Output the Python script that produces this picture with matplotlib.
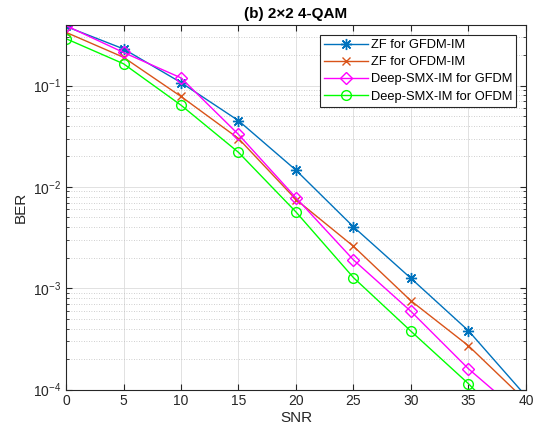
import numpy as np
import matplotlib
matplotlib.use("Agg")
from matplotlib import pyplot as plt
from matplotlib.ticker import LogLocator, NullFormatter, MultipleLocator

plt.rcParams['font.family'] = ['Liberation Sans', 'DejaVu Sans']
plt.rcParams['mathtext.fontset'] = 'custom'
plt.rcParams['mathtext.rm'] = 'Liberation Sans'

snr = [0, 5, 10, 15, 20, 25, 30, 35, 40]
zf_gfdm = [0.383, 0.23, 0.107, 0.045, 0.0146, 0.00403, 0.00125, 0.00038, 0.000086]
zf_ofdm = [0.335, 0.19, 0.078, 0.030, 0.0075, 0.00259, 0.00075, 0.00027, 0.000077]
deep_gfdm = [0.39, 0.212, 0.119, 0.0329, 0.0078, 0.0019, 0.00059, 0.00016, 0.000052]
deep_ofdm = [0.29, 0.164, 0.064, 0.0219, 0.00565, 0.00127, 0.000376, 0.000114, 0.00003]
labels = ['ZF for GFDM-IM', 'ZF for OFDM-IM', 'Deep-SMX-IM for GFDM', 'Deep-SMX-IM for OFDM']

fig = plt.figure(figsize=(5.34, 4.38), dpi=100)
ax = fig.add_axes([0.1236, 0.1107, 0.8614, 0.8333])

# matlab-like markers: asterisk, x, diamond, circle
ax.semilogy(snr, zf_gfdm, '-', marker=(8, 2, 0), color='#0072BD', lw=1, ms=8, label=labels[0])
ax.semilogy(snr, zf_ofdm, '-x', color='#D95319', lw=1, ms=6, label=labels[1])
ax.semilogy(snr, deep_gfdm, '-D', color='#FF00FF', lw=1, ms=6, mfc='none', label=labels[2])
ax.semilogy(snr, deep_ofdm, '-o', color='#00FF00', lw=1, ms=7, mfc='none', label=labels[3])

ax.set_xlim(0, 40)
ax.set_ylim(1e-4, 0.4)
ax.xaxis.set_major_locator(MultipleLocator(5))
ax.yaxis.set_major_locator(LogLocator(base=10, numticks=10))
ax.yaxis.set_minor_locator(LogLocator(base=10, subs=np.arange(2, 10), numticks=10))
ax.yaxis.set_minor_formatter(NullFormatter())

ax.grid(which='major', color='#dcdcdc', linestyle='-', linewidth=0.6)
ax.grid(which='minor', axis='y', color='#c0c0c0', linestyle=(0, (1, 2)), linewidth=0.6)
ax.set_axisbelow(True)

ax.tick_params(which='both', direction='in', top=True, right=True, colors='#262626',
               labelsize=10, labelcolor='#262626')
ax.tick_params(which='major', length=4)
ax.tick_params(which='minor', length=2)
for s in ax.spines.values():
    s.set_color('#262626')
    s.set_linewidth(0.8)

ax.set_xlabel('SNR', fontsize=11, color='#262626', labelpad=2)
ax.set_ylabel('BER', fontsize=11, color='#262626', labelpad=4)
ax.set_title('(b) 2\u00d72 4-QAM', fontsize=11, fontweight='bold', pad=5)

leg = ax.legend(loc='upper right', bbox_to_anchor=(0.978, 0.971), borderaxespad=0,
                fontsize=9.3, labelspacing=0.4, handlelength=3.4, handletextpad=0.2,
                fancybox=False, framealpha=1, edgecolor='#262626', borderpad=0.3)
leg.get_frame().set_linewidth(0.8)

fig.savefig('out.png', dpi=100, facecolor='white')
